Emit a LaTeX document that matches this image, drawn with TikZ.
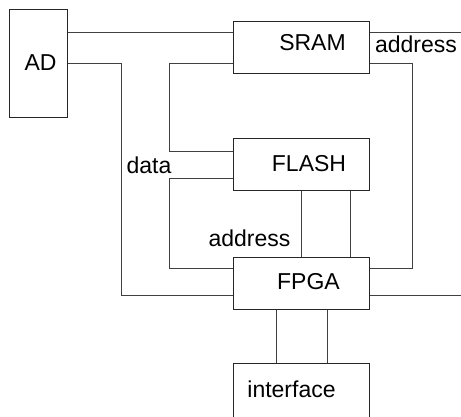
\documentclass[tikz,border=0pt]{standalone}
\usepackage{fontspec}
\setmainfont{Liberation Sans}
\begin{document}
\begin{tikzpicture}[x=1pt,y=-1pt,
  blk/.style={draw=black!85,line width=1pt,rectangle,inner sep=0pt,minimum width=136pt,minimum height=52.5pt},
  wire/.style={draw=black!75,line width=1pt},
  lbl/.style={inner sep=0pt,font=\fontsize{23}{27}\selectfont}]
\useasboundingbox (0,0) rectangle (461,417);
% boxes
\node[blk,minimum width=57.5pt,minimum height=108pt] (AD) at (38.25,64) {};
\node[blk,minimum height=52pt] (SRAM) at (301,48) {};
\node[blk] (FLASH) at (301,164.75) {};
\node[blk] (FPGA) at (301,283.25) {};
\node[blk,minimum height=54.5pt] (IF) at (301,390.75) {};
% texts
\node[lbl] (tAD) at (40.5,62.5) {AD};
\node[lbl] (tSRAM) at (312.5,43) {SRAM};
\node[lbl] (tFLASH) at (309,163.5) {FLASH};
\node[lbl] (tFPGA) at (308.5,282) {FPGA};
\node[lbl] (tIF) at (291.5,389) {interface};
\node[lbl] (tdata) at (149,165) {data};
\node[lbl] (taddr1) at (249.5,238.5) {address};
\node[lbl] (taddr2) at (416,44.5) {address};
% free ends
\coordinate (e1) at (461,33);
\coordinate (e2) at (461,295);
% connectors
\draw[wire] (AD.east |- 0,33) -- (SRAM.west |- 0,33);
\draw[wire] (AD.east |- 0,64) -- (121.5,64) -- (121.5,295) -- (FPGA.west |- 0,295);
\draw[wire] (SRAM.west |- 0,64) -- (169.5,64) -- (169.5,152) -- (FLASH.west |- 0,152);
\draw[wire] (FLASH.west |- 0,179) -- (169.5,179) -- (169.5,268) -- (FPGA.west |- 0,268);
\draw[wire] (FLASH.south -| 301.5,0) -- (FPGA.north -| 301.5,0);
\draw[wire] (FLASH.south -| 350,0) -- (FPGA.north -| 350,0);
\draw[wire] (FPGA.east |- 0,268) -- (412.5,268) -- (412.5,64) -- (SRAM.east |- 0,64);
\draw[wire] (SRAM.east |- 0,33) -- (e1);
\draw[wire] (FPGA.east |- 0,295) -- (e2);
\draw[wire] (FPGA.south -| 276,0) -- (IF.north -| 276,0);
\draw[wire] (FPGA.south -| 327,0) -- (IF.north -| 327,0);
\end{tikzpicture}
\end{document}
